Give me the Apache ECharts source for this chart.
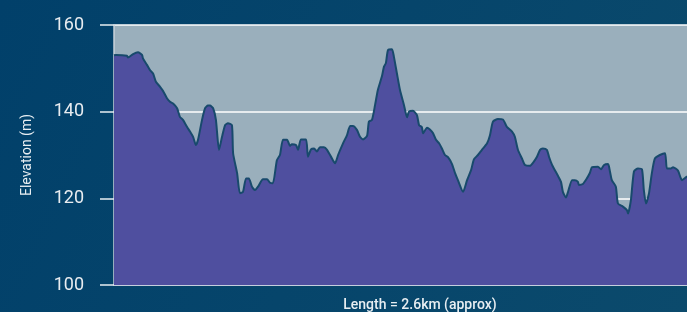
<!DOCTYPE html>
<html>
<head>
<meta charset="utf-8">
<script src="https://cdn.jsdelivr.net/npm/echarts@6/dist/echarts.min.js"></script>
<style>
  html, body { margin: 0; padding: 0; background: #02416a; }
  #profile { width: 687px; height: 312px; }
</style>
</head>
<body>
<div id="profile"></div>
<script>
// distance along the route (m)
const distance = [
    0, 8, 55, 59, 81, 102, 119, 123, 140, 153, 166, 178, 195, 208, 225, 238, 251, 268, 280, 293,
    310, 323, 336, 348, 357, 374, 387, 399, 408, 421, 433, 446, 459, 472, 484, 501, 506, 523, 535, 548,
    561, 573, 586, 599, 612, 633, 650, 663, 675, 692, 705, 718, 735, 748, 756, 773, 782, 794, 816, 824,
    837, 850, 862, 875, 892, 905, 926, 939, 952, 973, 990, 1003, 1015, 1032, 1045, 1058, 1075, 1083, 1096, 1109,
    1121, 1138, 1147, 1155, 1164, 1181, 1189, 1202, 1215, 1232, 1245, 1253, 1270, 1287, 1296, 1308, 1313, 1330, 1342, 1355,
    1368, 1381, 1393, 1406, 1419, 1436, 1449, 1461, 1483, 1500, 1517, 1529, 1546, 1563, 1585, 1597, 1610, 1631, 1652, 1669,
    1691, 1703, 1716, 1733, 1746, 1767, 1780, 1797, 1810, 1822, 1839, 1848, 1861, 1873, 1886, 1899, 1907, 1920, 1929, 1946,
    1958, 1971, 1975, 1992, 2009, 2022, 2031, 2056, 2069, 2082, 2099, 2107, 2115, 2132, 2141, 2162, 2179, 2184, 2196, 2209,
    2226, 2243, 2251, 2260, 2273, 2285, 2298, 2319, 2341, 2349, 2366, 2375, 2396, 2413, 2434, 2460, 2490, 2520, 2560, 2600
]
// elevation (m)
const elevation = [
    153.0, 153.1, 152.9, 152.5, 153.3, 153.7, 153.1, 152.3, 150.8, 149.6, 148.8, 146.9, 145.8, 144.8, 143.1, 142.3, 141.9, 140.8, 138.8, 138.1,
    136.5, 135.4, 134.2, 132.3, 133.5, 138.1, 140.8, 141.4, 141.4, 140.8, 138.1, 131.2, 134.2, 136.9, 137.3, 136.9, 130.4, 125.8, 121.2, 121.5,
    124.6, 124.6, 122.7, 121.9, 122.7, 124.4, 124.4, 123.6, 123.5, 128.8, 130.0, 133.5, 133.5, 132.1, 132.5, 132.3, 131.2, 133.6, 133.6, 129.6,
    131.3, 131.5, 130.8, 131.8, 131.8, 131.2, 129.2, 128.1, 130.0, 132.7, 134.6, 136.7, 136.7, 135.8, 134.2, 133.6, 134.4, 137.7, 138.1, 141.5,
    145.0, 148.1, 150.4, 151.2, 154.2, 154.4, 152.7, 148.8, 145.0, 141.5, 138.7, 140.0, 140.2, 139.2, 136.9, 136.4, 135.0, 136.3, 135.9, 135.1,
    133.5, 132.7, 131.5, 130.0, 129.5, 127.9, 125.8, 124.2, 121.5, 124.2, 126.5, 129.0, 130.0, 131.2, 132.7, 134.5, 137.7, 138.3, 138.2, 136.5,
    135.4, 134.2, 131.2, 129.2, 127.7, 127.5, 128.2, 129.6, 131.2, 131.5, 131.2, 129.6, 127.7, 126.5, 125.2, 123.8, 121.5, 120.2, 121.5, 124.2,
    124.2, 123.8, 123.1, 123.3, 124.6, 125.9, 127.2, 127.3, 126.7, 127.7, 127.9, 126.2, 124.2, 122.7, 118.8, 118.1, 117.3, 116.5, 119.6, 126.2,
    126.9, 126.7, 121.9, 118.8, 121.2, 125.8, 129.2, 130.0, 130.4, 126.9, 126.9, 127.2, 126.4, 124.2, 125.0, 125.5, 124.5, 123.8, 123.0, 122.5
]
const elevTicks = [100, 120, 140, 160]

const chart = echarts.init(document.getElementById('profile'))

const option = {
    backgroundColor: new echarts.graphic.LinearGradient(0, 0, 1, 1, [
        { offset: 0, color: '#01406a' },
        { offset: 1, color: '#0b4a6c' }
    ]),
    textStyle: { fontFamily: 'Roboto' },
    animation: false,
    grid: {
        left: 114,
        top: 25,
        bottom: 27,
        width: 612,
        outerBoundsMode: 'none',
        containLabel: false,
        show: true,
        backgroundColor: '#9aafbc',
        borderWidth: 0
    },
    xAxis: {
        type: 'value',
        min: 0,
        max: 2600,
        name: 'Length = 2.6km (approx)',
        nameLocation: 'middle',
        nameGap: 13,
        nameTextStyle: { color: '#e8eef2', fontSize: 14, fontWeight: 500 },
        axisLine: { lineStyle: { color: '#c8cde0', width: 1.5 } },
        axisTick: { show: false },
        axisLabel: { show: false },
        splitLine: { show: false }
    },
    yAxis: {
        type: 'value',
        min: elevTicks[0],
        max: elevTicks[elevTicks.length - 1],
        interval: 20,
        name: 'Elevation (m)',
        nameLocation: 'middle',
        nameGap: 80,
        nameTextStyle: { color: '#e8eef2', fontSize: 14 },
        axisLine: { show: true, lineStyle: { color: '#c8d2da', width: 1.5 } },
        axisTick: { show: true, length: 14, lineStyle: { color: '#e8eef2', width: 1.5 } },
        axisLabel: { color: '#e8ecf0', fontSize: 18, margin: 30 },
        splitLine: { show: true, lineStyle: { color: '#ffffff', width: 1.5 } }
    },
    series: [{
        type: 'line',
        data: distance.map((d, i) => [d, elevation[i]]),
        symbol: 'none',
        smooth: 0.2,
        lineStyle: { color: '#184a6c', width: 2 },
        areaStyle: { color: '#4f4f9f', opacity: 1, origin: 'start' }
    }]
}

chart.setOption(option)
</script>
</body>
</html>
